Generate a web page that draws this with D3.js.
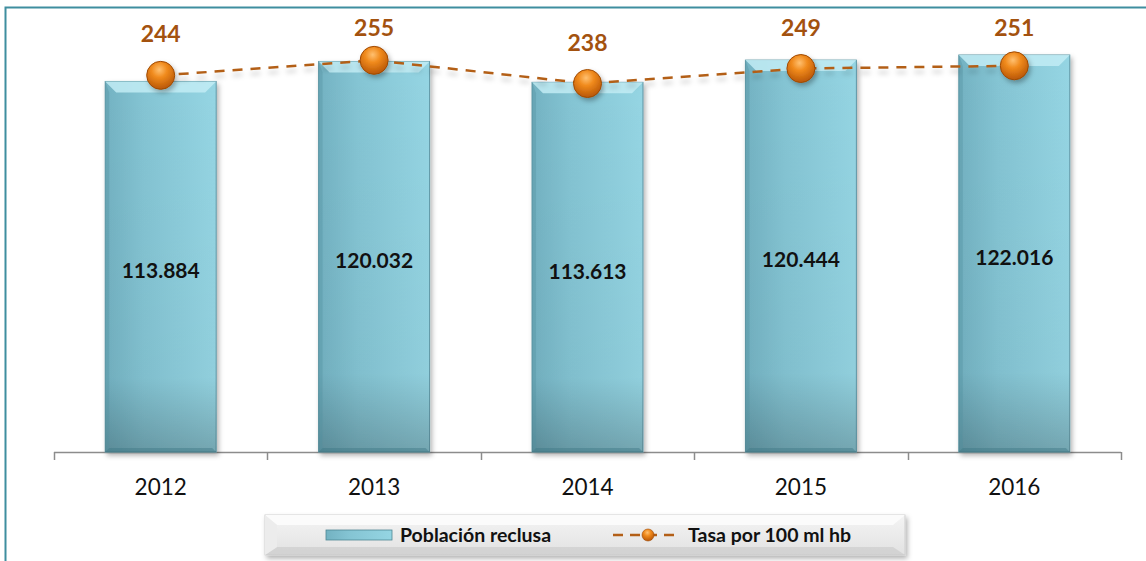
<!DOCTYPE html>
<html>
<head>
<meta charset="utf-8">
<script src="https://cdn.jsdelivr.net/npm/d3@7"></script>
<style>
  html, body { margin: 0; padding: 0; background: #fff; }
  svg { display: block; }
</style>
</head>
<body>
<div id="chart"></div>
<script>
(function(){
    var width = 1146;
    var height = 561;

    var years = ['2012', '2013', '2014', '2015', '2016'];
    var poblacion = [113884, 120032, 113613, 120444, 122016];
    var tasa = [244, 255, 238, 249, 251];
    var poblacionLabels = ['113.884', '120.032', '113.613', '120.444', '122.016'];

    var font = 'Lato, "Open Sans", "DejaVu Sans", sans-serif';

    var svg = d3.select('#chart')
        .append('svg')
            .attr('width', width)
            .attr('height', height)
            .style('font-family', font);

    var defs = svg.append('defs');

    var barGrad = defs.append('linearGradient')
        .attr('id', 'barGrad')
        .attr('x1', '0%').attr('x2', '100%').attr('y1', '0%').attr('y2', '0%');
    barGrad.append('stop').attr('offset', '0%').attr('stop-color', '#73b2c2');
    barGrad.append('stop').attr('offset', '35%').attr('stop-color', '#84c4d3');
    barGrad.append('stop').attr('offset', '100%').attr('stop-color', '#95d5e3');

    var barShade = defs.append('linearGradient')
        .attr('id', 'barShade')
        .attr('x1', '0%').attr('x2', '0%').attr('y1', '0%').attr('y2', '100%');
    barShade.append('stop').attr('offset', '0%').attr('stop-color', '#000').attr('stop-opacity', 0);
    barShade.append('stop').attr('offset', '80%').attr('stop-color', '#000').attr('stop-opacity', 0.03);
    barShade.append('stop').attr('offset', '100%').attr('stop-color', '#000').attr('stop-opacity', 0.22);

    var dotGrad = defs.append('radialGradient')
        .attr('id', 'dotGrad')
        .attr('cx', '45%').attr('cy', '30%').attr('r', '70%');
    dotGrad.append('stop').attr('offset', '0%').attr('stop-color', '#ffc070');
    dotGrad.append('stop').attr('offset', '40%').attr('stop-color', '#f08a1c');
    dotGrad.append('stop').attr('offset', '100%').attr('stop-color', '#b85606');

    var legGrad = defs.append('linearGradient')
        .attr('id', 'legGrad')
        .attr('x1', '0%').attr('x2', '0%').attr('y1', '0%').attr('y2', '100%');
    legGrad.append('stop').attr('offset', '0%').attr('stop-color', '#f4f4f4');
    legGrad.append('stop').attr('offset', '100%').attr('stop-color', '#e2e2e2');

    var shadow = defs.append('filter')
        .attr('id', 'shadow')
        .attr('x', '-20%').attr('y', '-20%').attr('width', '150%').attr('height', '150%');
    shadow.append('feDropShadow')
        .attr('dx', 2).attr('dy', 3).attr('stdDeviation', 2.5)
        .attr('flood-color', '#000').attr('flood-opacity', 0.3);

    var lineShadow = defs.append('filter')
        .attr('id', 'lineShadow')
        .attr('x', '-5%').attr('y', '-50%').attr('width', '110%').attr('height', '300%');
    lineShadow.append('feDropShadow')
        .attr('dx', 0).attr('dy', 5).attr('stdDeviation', 2.5)
        .attr('flood-color', '#000').attr('flood-opacity', 0.2);

    // outer frame
    svg.append('path')
        .attr('d', 'M5.5,' + height + ' L5.5,7.5 L' + width + ',7.5')
        .attr('fill', 'none')
        .attr('stroke', '#3f8e9f')
        .attr('stroke-width', 2);

    var plot = { left: 54, right: 1121, bottom: 452 };

    var xScale = d3.scaleBand()
        .domain(years)
        .range([plot.left, plot.right])
        .paddingInner(0.48)
        .paddingOuter(0.24);

    var yScale = d3.scaleLinear()
        .domain([0, 140000])
        .range([plot.bottom, plot.bottom - 397 * 140000 / 122016]);

    var y2Scale = d3.scaleLinear()
        .domain([0, 300])
        .range([408, -1]);

    // axis
    var step = (plot.right - plot.left) / years.length;
    var axis = svg.append('g').attr('class', 'x axis');
    axis.append('line')
        .attr('x1', plot.left).attr('x2', plot.right)
        .attr('y1', plot.bottom + 0.5).attr('y2', plot.bottom + 0.5)
        .attr('stroke', '#8c8c8c').attr('stroke-width', 1.5);
    axis.selectAll('.tick')
        .data(d3.range(years.length + 1))
        .enter()
        .append('line')
        .attr('class', 'tick')
        .attr('x1', function(d){ return Math.round(plot.left + d * step) + 0.5; })
        .attr('x2', function(d){ return Math.round(plot.left + d * step) + 0.5; })
        .attr('y1', plot.bottom)
        .attr('y2', plot.bottom + 8)
        .attr('stroke', '#8c8c8c').attr('stroke-width', 1.5);
    axis.selectAll('.label')
        .data(years)
        .enter()
        .append('text')
        .attr('class', 'label')
        .attr('x', function(d){ return xScale(d) + xScale.bandwidth() / 2; })
        .attr('y', 495)
        .attr('text-anchor', 'middle')
        .attr('font-size', '22.5px')
        .attr('fill', '#111')
        .text(function(d){ return d; });

    // bars
    var bars = svg.selectAll('.bar')
        .data(years)
        .enter()
        .append('g')
        .attr('class', 'bar')
        .attr('filter', 'url(#shadow)');

    bars.append('rect')
        .attr('x', function(d){ return xScale(d); })
        .attr('y', function(d, i){ return yScale(poblacion[i]); })
        .attr('width', xScale.bandwidth())
        .attr('height', function(d, i){ return yScale(0) - yScale(poblacion[i]); })
        .attr('fill', 'url(#barGrad)')
        .attr('stroke', '#5f98a6')
        .attr('stroke-width', 1);

    bars.append('rect')
        .attr('x', function(d){ return xScale(d); })
        .attr('y', function(d, i){ return yScale(poblacion[i]); })
        .attr('width', xScale.bandwidth())
        .attr('height', function(d, i){ return yScale(0) - yScale(poblacion[i]); })
        .attr('fill', 'url(#barShade)');

    // bevels
    var bev = 11;
    bars.append('path')
        .attr('d', function(d, i){
            var x0 = xScale(d), x1 = x0 + xScale.bandwidth(), y0 = yScale(poblacion[i]);
            return 'M' + x0 + ',' + y0 + ' L' + x1 + ',' + y0 + ' L' + (x1 - bev) + ',' + (y0 + bev) +
                ' L' + (x0 + bev) + ',' + (y0 + bev) + ' Z';
        })
        .attr('fill', '#c2ecf5')
        .attr('opacity', 0.85);
    bars.append('path')
        .attr('d', function(d, i){
            var x0 = xScale(d), y0 = yScale(poblacion[i]), yb = yScale(0);
            return 'M' + x0 + ',' + y0 + ' L' + (x0 + 4) + ',' + (y0 + bev) + ' L' + (x0 + 4) + ',' + (yb - 4) +
                ' L' + x0 + ',' + yb + ' Z';
        })
        .attr('fill', '#4f8e9e')
        .attr('opacity', 0.35);
    bars.append('path')
        .attr('d', function(d, i){
            var x0 = xScale(d), x1 = x0 + xScale.bandwidth(), yb = yScale(0);
            return 'M' + x0 + ',' + yb + ' L' + (x0 + 4) + ',' + (yb - 4) + ' L' + (x1 - 4) + ',' + (yb - 4) +
                ' L' + x1 + ',' + yb + ' Z';
        })
        .attr('fill', '#3f7886')
        .attr('opacity', 0.45);

    // bar labels
    svg.selectAll('.barlabel')
        .data(years)
        .enter()
        .append('text')
        .attr('class', 'barlabel')
        .attr('x', function(d){ return xScale(d) + xScale.bandwidth() / 2; })
        .attr('y', function(d, i){ return (yScale(poblacion[i]) + yScale(0)) / 2 + 4; })
        .attr('dy', '0.35em')
        .attr('text-anchor', 'middle')
        .attr('font-size', '21px')
        .attr('font-weight', 'bold')
        .attr('fill', '#111')
        .text(function(d, i){ return poblacionLabels[i]; });

    // rate line
    var line = d3.line()
        .x(function(d, i){ return xScale(years[i]) + xScale.bandwidth() / 2; })
        .y(function(d){ return y2Scale(d); });

    svg.append('path')
        .datum(tasa)
        .attr('d', line)
        .attr('fill', 'none')
        .attr('stroke', '#b35f17')
        .attr('stroke-width', 2.5)
        .attr('stroke-dasharray', '10,8')
        .attr('filter', 'url(#lineShadow)');

    svg.selectAll('.dot')
        .data(tasa)
        .enter()
        .append('circle')
        .attr('class', 'dot')
        .attr('cx', function(d, i){ return xScale(years[i]) + xScale.bandwidth() / 2; })
        .attr('cy', function(d){ return y2Scale(d); })
        .attr('r', 14)
        .attr('fill', 'url(#dotGrad)')
        .attr('stroke', '#a04a05')
        .attr('stroke-width', 1)
        .attr('filter', 'url(#shadow)');

    svg.selectAll('.ratelabel')
        .data(tasa)
        .enter()
        .append('text')
        .attr('class', 'ratelabel')
        .attr('x', function(d, i){ return xScale(years[i]) + xScale.bandwidth() / 2; })
        .attr('y', function(d){ return Math.max(y2Scale(d) - 33, 36); })
        .attr('text-anchor', 'middle')
        .attr('font-size', '23px')
        .attr('font-weight', 'bold')
        .attr('fill', '#a3520f')
        .text(function(d){ return d; });

    // legend
    var legend = svg.append('g')
        .attr('class', 'legend')
        .attr('transform', 'translate(265,515)');

    legend.append('rect')
        .attr('width', 640).attr('height', 40)
        .attr('fill', 'url(#legGrad)')
        .attr('stroke', '#cfcfcf')
        .attr('filter', 'url(#shadow)');
    legend.append('path')
        .attr('d', 'M0,0 L640,0 L628,10 L12,10 Z')
        .attr('fill', '#fbfbfb');
    legend.append('path')
        .attr('d', 'M0,40 L640,40 L628,32 L12,32 Z')
        .attr('fill', '#c8c8c8').attr('opacity', 0.6);
    legend.append('path')
        .attr('d', 'M0,0 L12,10 L12,32 L0,40 Z')
        .attr('fill', '#ececec');

    legend.append('rect')
        .attr('x', 61).attr('y', 15)
        .attr('width', 66).attr('height', 10)
        .attr('fill', 'url(#barGrad)')
        .attr('stroke', '#4f8794').attr('stroke-width', 0.8);

    legend.append('text')
        .attr('x', 135).attr('y', 20)
        .attr('dy', '0.35em')
        .attr('font-size', '19.5px')
        .attr('font-weight', 'bold')
        .attr('fill', '#111')
        .text('Población reclusa');

    legend.append('line')
        .attr('x1', 348).attr('x2', 412)
        .attr('y1', 20).attr('y2', 20)
        .attr('stroke', '#b35f17')
        .attr('stroke-width', 2.5)
        .attr('stroke-dasharray', '10,7');
    legend.append('circle')
        .attr('cx', 383).attr('cy', 20).attr('r', 6)
        .attr('fill', 'url(#dotGrad)')
        .attr('stroke', '#a04a05').attr('stroke-width', 0.6);

    legend.append('text')
        .attr('x', 423).attr('y', 20)
        .attr('dy', '0.35em')
        .attr('font-size', '19.5px')
        .attr('font-weight', 'bold')
        .attr('fill', '#111')
        .text('Tasa por 100 ml hb');
})();
</script>
</body>
</html>
